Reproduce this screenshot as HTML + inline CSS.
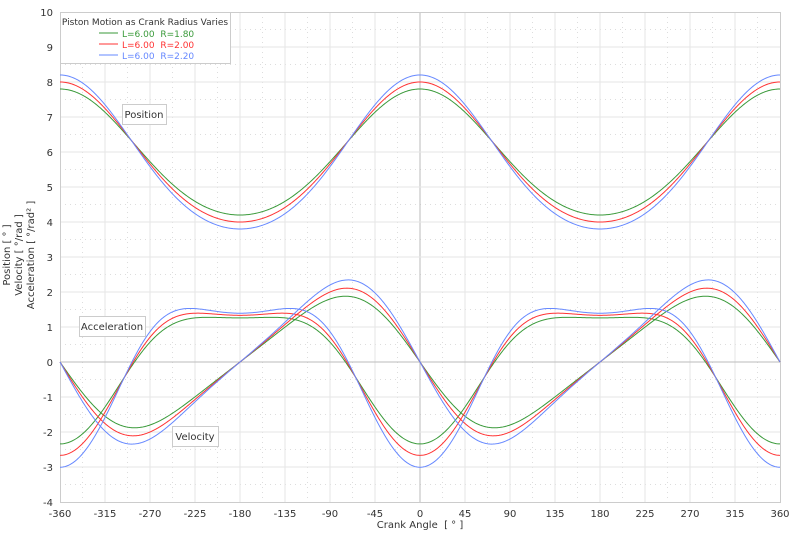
<!DOCTYPE html>
<html><head><meta charset="utf-8"><style>
body{margin:0;background:#fff;}
svg{display:block;font-family:"DejaVu Sans","Liberation Sans",sans-serif;}
</style></head><body>
<svg id="s" width="800" height="535" xmlns="http://www.w3.org/2000/svg"></svg>
<script>
var s=document.getElementById('s'),h='';
function X(d){return 420+d;}function Y(v){return 362-35*v;}
h+='<rect x="0" y="0" width="800" height="535" fill="#fff"/>';
for(var d=-337.5;d<360;d+=45)h+='<line x1="'+X(d)+'" y1="12" x2="'+X(d)+'" y2="502" stroke="#ddd" stroke-dasharray="1,4"/>';
for(var v=-3.5;v<10;v+=1)h+='<line x1="60" y1="'+Y(v)+'" x2="780" y2="'+Y(v)+'" stroke="#ddd" stroke-dasharray="1,4"/>';
for(var d=-315;d<360;d+=45)h+='<line x1="'+X(d)+'" y1="12" x2="'+X(d)+'" y2="502" stroke="'+(d==0?'#bbb':'#e6e6e6')+'"/>';
for(var v=-3;v<10;v++)h+='<line x1="60" y1="'+Y(v)+'" x2="780" y2="'+Y(v)+'" stroke="'+(v==0?'#bbb':'#e6e6e6')+'"/>';
h+='<rect x="60.5" y="12.5" width="720" height="490" fill="none" stroke="#ccc"/>';
for(var v=-4;v<=10;v++)h+='<text x="53" y="'+(Y(v)+4)+'" font-size="10" fill="#333" text-anchor="end">'+v+'</text>';
for(var d=-360;d<=360;d+=45)h+='<text x="'+X(d)+'" y="517" font-size="10" fill="#333" text-anchor="middle">'+d+'</text>';
h+='<text x="420" y="528" font-size="10" fill="#333" text-anchor="middle" xml:space="preserve">Crank Angle  [ ° ]</text>';
h+='<g transform="rotate(-90)" font-size="10" fill="#333" text-anchor="middle" xml:space="preserve"><text x="-255" y="10">Position  [ ° ]</text><text x="-255" y="22">Velocity  [ °/rad ]</text><text x="-255" y="34">Acceleration  [ °/rad² ]</text></g>';
var L=6,cols=['#3a9a3a','#ff3333','#6688ff'],Rs=[1.8,2,2.2];
function pos(R,t){return R*Math.cos(t)+Math.sqrt(L*L-R*R*Math.sin(t)*Math.sin(t));}
for(var k=0;k<3;k++){var R=Rs[k],e=1e-3,p=['','',''];
for(var d=-360;d<=360;d+=1){var t=d*Math.PI/180;
var a=pos(R,t),b=pos(R,t+e),c=pos(R,t-e);
var vals=[a,(b-c)/(2*e),(b-2*a+c)/(e*e)];
for(var j=0;j<3;j++)p[j]+=(d==-360?'M':'L')+X(d)+','+Y(vals[j]).toFixed(2);}
for(var j=0;j<3;j++)h+='<path d="'+p[j]+'" fill="none" stroke="'+cols[k]+'" stroke-width="1"/>';}
function box(x,y,w,t){h+='<rect x="'+x+'.5" y="'+y+'.5" width="'+w+'" height="20" fill="#fff" stroke="#ccc"/><text x="'+(x+w/2)+'" y="'+(y+14)+'" font-size="10" fill="#333" text-anchor="middle">'+t+'</text>';}
box(122,104,44,'Position');box(79,316,66,'Acceleration');box(172,426,46,'Velocity');
h+='<rect x="60.5" y="12.5" width="170" height="51" fill="#fff" stroke="#ccc"/>';
h+='<text x="145" y="25" font-size="9" fill="#333" text-anchor="middle">Piston Motion as Crank Radius Varies</text>';
var ls=['L=6.00  R=1.80','L=6.00  R=2.00','L=6.00  R=2.20'];
for(var k=0;k<3;k++){var yy=33+k*11;h+='<line x1="99" y1="'+yy+'" x2="118" y2="'+yy+'" stroke="'+cols[k]+'"/><text x="122" y="'+(yy+4)+'" font-size="9" fill="'+cols[k]+'" xml:space="preserve">'+ls[k]+'</text>';}
s.innerHTML=h;
</script>
</body></html>
